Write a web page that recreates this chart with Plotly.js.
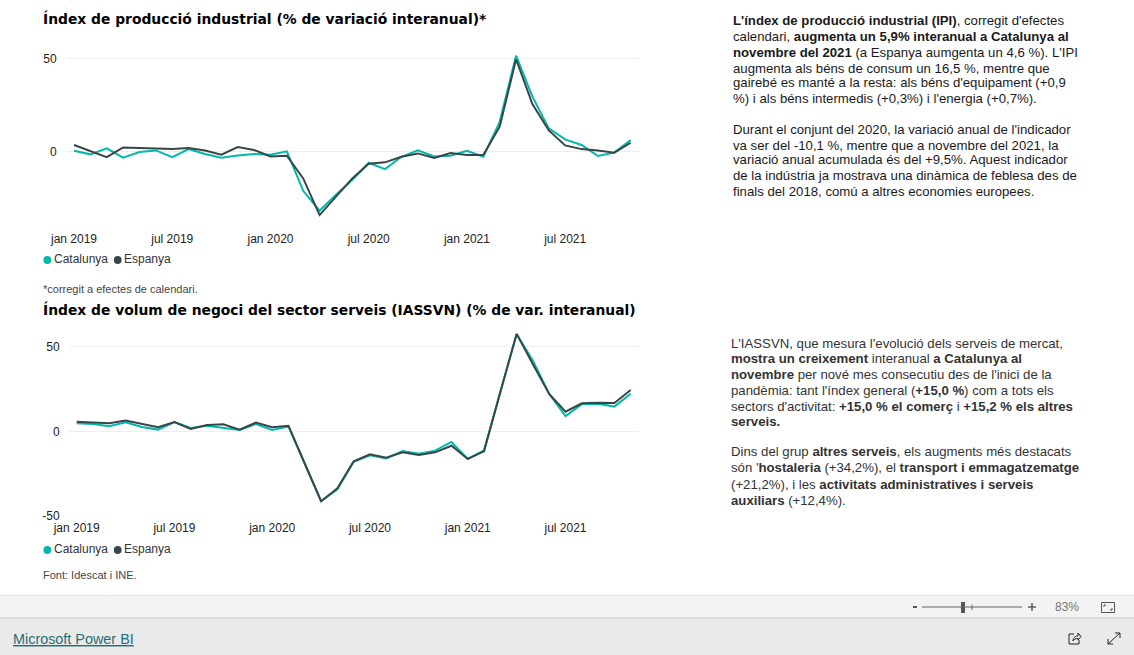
<!DOCTYPE html>
<html><head><meta charset="utf-8">
<script src="https://cdn.plot.ly/plotly-3.0.1.min.js"></script>
<style>html,body{margin:0;padding:0;background:#fff;overflow:hidden}#c{width:1134px;height:655px}</style>
</head><body><div id="c"></div>
<script>
const months = ['jan 2019','feb 2019','mar 2019','abr 2019','mai 2019','jun 2019','jul 2019','ago 2019','set 2019','oct 2019','nov 2019','des 2019',
'jan 2020','feb 2020','mar 2020','abr 2020','mai 2020','jun 2020','jul 2020','ago 2020','set 2020','oct 2020','nov 2020','des 2020',
'jan 2021','feb 2021','mar 2021','abr 2021','mai 2021','jun 2021','jul 2021','ago 2021','set 2021','oct 2021','nov 2021'];
const tickLabels = ['jan 2019','jul 2019','jan 2020','jul 2020','jan 2021','jul 2021'];
const ipiCatalunya = [0.5,-1.4,1.8,-3.2,-0.2,0.7,-2.9,1.4,-1.2,-3.2,-2,-1.2,-1.6,0.2,-20.9,-31.6,-23,-15,-5.9,-9.3,-2.7,0.7,-2.5,-2.1,0.5,-2.7,16,51.4,29.5,12.5,6.6,3.6,-2.3,-0.5,6.2];
const ipiEspanya = [3.6,0.5,-2.9,2.3,2,2.1,1.4,2,0.7,-1.6,2.5,0.9,-2.5,-2.1,-14.3,-33.9,-24,-14.3,-6.4,-5.7,-2.7,-0.9,-3.4,-0.7,-1.8,-1.8,13.4,49.5,25.5,11.4,3.4,1.4,0.7,-0.5,4.8];
const iassCatalunya = [4.7,4.3,3,5.3,2.6,1,5.5,2,3.3,2.2,0.8,4.3,0.8,2.8,-19,-41.3,-34.3,-18,-14.2,-16,-11.6,-13.2,-11.4,-6.3,-16.3,-11.2,23.4,57.5,41.7,22,9,16,16.3,14.6,22.2];
const iassEspanya = [5.7,5.1,4.7,6.3,4.3,2.4,5.5,1.4,3.7,4.1,1,5.1,2.4,3.3,-19,-41.3,-33.7,-17.7,-13.6,-15.6,-12.4,-14,-12.4,-8.5,-16.3,-11.8,23,57.5,39.6,22,11.6,16.5,16.9,16.7,24.4];
const seriesNames = ['Catalunya','Espanya'];
const seriesColors = ['#01B8AA','#374649'];
const title1 = 'Índex de producció industrial (% de variació interanual)*';
const title2 = 'Índex de volum de negoci del sector serveis (IASSVN) (% de var. interanual)';
const note1 = '*corregit a efectes de calendari.';
const note2 = 'Font: Idescat i INE.';
const para1 = [
 "<b>L'índex de producció industrial (IPI)</b>, corregit d'efectes",
 "calendari, <b>augmenta un 5,9% interanual a Catalunya al</b>",
 "<b>novembre del 2021</b> (a Espanya aumgenta un 4,6 %). L'IPI",
 "augmenta als béns de consum un 16,5 %, mentre que",
 "gairebé es manté a la resta: als béns d'equipament (+0,9",
 "%) i als béns intermedis (+0,3%) i l'energia (+0,7%)."];
const para2 = [
 "Durant el conjunt del 2020, la variació anual de l'indicador",
 "va ser del -10,1 %, mentre que a novembre del 2021, la",
 "variació anual acumulada és del +9,5%. Aquest indicador",
 "de la indústria ja mostrava una dinàmica de feblesa des de",
 "finals del 2018, comú a altres economies europees."];
const para3 = [
 "L'IASSVN, que mesura l'evolució dels serveis de mercat,",
 "<b>mostra un creixement</b> interanual <b>a Catalunya al</b>",
 "<b>novembre</b> per nové mes consecutiu des de l'inici de la",
 "pandèmia: tant l'índex general (<b>+15,0 %</b>) com a tots els",
 "sectors d'activitat: <b>+15,0 % el comerç</b> i <b>+15,2 % els altres</b>",
 "<b>serveis.</b>"];
const para4 = [
 "Dins del grup <b>altres serveis</b>, els augments més destacats",
 "són '<b>hostaleria</b> (+34,2%), el <b>transport i emmagatzematge</b>",
 "(+21,2%), i les <b>activitats administratives i serveis</b>",
 "<b>auxiliars</b> (+12,4%)."];

const W = 1134, H = 655;
const px = x => x / W, py = y => 1 - y / H;
const sans = 'Liberation Sans, Arial, sans-serif';
const annotations = [], shapes = [];
function text(x, y, t, size, color, opts) {
  annotations.push(Object.assign({xref:'paper', yref:'paper', x:px(x), y:py(y), text:t, showarrow:false,
    xanchor:'left', yanchor:'middle', borderpad:0, font:{family:sans, size:size, color:color}}, opts||{}));
}
function lines(x, ys, arr, color) { arr.forEach((t,i)=>text(x, ys[i], t, 13.2, color)); }
function rect(x0,y0,x1,y1,fill,lineColor){ shapes.push({type:'rect',xref:'paper',yref:'paper',layer:'below',x0:px(x0),x1:px(x1),y0:py(y0),y1:py(y1),
  fillcolor:fill,line:{width:lineColor?1:0,color:lineColor||fill}}); }
function seg(x0,y0,x1,y1,color,w){ shapes.push({type:'line',xref:'paper',yref:'paper',x0:px(x0),x1:px(x1),y0:py(y0),y1:py(y1),line:{color:color,width:w||1}}); }
function dot(cx,cy,r,color){ shapes.push({type:'circle',xref:'paper',yref:'paper',x0:px(cx-r),x1:px(cx+r),y0:py(cy-r),y1:py(cy+r),fillcolor:color,line:{width:0}}); }

// titles and notes
const titleFont = {family:'DejaVu Sans, sans-serif',size:13.85,color:'#000',weight:700};
text(42,19,title1,13.85,'#000',{font:titleFont});
text(42,309,title2,13.85,'#000',{font:titleFont});
text(42,289,note1,11,'#444');
text(42,575,note2,11,'#444');
// legends
[260,550].forEach(y=>{
  dot(47.3,y,3.9,seriesColors[0]); text(52.5,y-1,seriesNames[0],12,'#333');
  dot(117.7,y,3.9,seriesColors[1]); text(122.5,y-1,seriesNames[1],12,'#333');
});
// paragraphs
lines(732,[20,36,52,68,83,99],para1,'#1a1a1a');
lines(732,[129,145,160,176,192],para2,'#1a1a1a');
lines(729.7,[343,358,374,390,406,421],para3,'#333');
lines(729.7,[452,468,484,500],para4,'#333');
// bottom bars
rect(0,595.5,W,618,'#f3f3f3');
rect(0,618,W,H,'#eaeaea');
seg(0,595.5,W,595.5,'#e2e2e2');
seg(0,618,W,618,'#c8c8c8');
seg(913,607,917,607,'#555',2);
seg(922,607,1022,607,'#666',1);
seg(972,604.5,972,610,'#666',1);
rect(961,602,965,613,'#555');
seg(1028,607,1036,607,'#555',1.4);
seg(1032,603,1032,611,'#555',1.4);
text(1067,607,'83%',12,'#777',{xanchor:'center'});
shapes.push({type:'rect',xref:'paper',yref:'paper',x0:px(1101.5),x1:px(1114.5),y0:py(612.5),y1:py(602.5),line:{color:'#555',width:1}});
seg(1104,605,1106,605,'#555',1); seg(1104,605,1104,607,'#555',1);
seg(1110,610,1112,610,'#555',1); seg(1112,610,1112,608,'#555',1);
text(12,639,'Microsoft Power BI',14.4,'#1f6f78',{font:{family:sans,size:14.4,color:'#1f6f78',weight:400,lineposition:'under'}});
// share icon
shapes.push({type:'path',xref:'paper',yref:'paper',path:`M ${px(1074)} ${py(634)} L ${px(1069)} ${py(634)} L ${px(1069)} ${py(644)} L ${px(1079)} ${py(644)} L ${px(1079)} ${py(640)}`,line:{color:'#222',width:1}});
shapes.push({type:'path',xref:'paper',yref:'paper',path:`M ${px(1073)} ${py(641)} C ${px(1073)} ${py(637)} ${px(1076)} ${py(636)} ${px(1078)} ${py(636)} L ${px(1078)} ${py(633)} L ${px(1081)} ${py(636.5)} L ${px(1078)} ${py(640)} L ${px(1078)} ${py(638.5)} C ${px(1076)} ${py(638.5)} ${px(1074)} ${py(639)} ${px(1073)} ${py(641)}`,line:{color:'#222',width:1}});
// expand icon
seg(1108,644,1120,633,'#222',1);
seg(1115,633,1120,633,'#222',1); seg(1120,633,1120,638,'#222',1);
seg(1108,644,1113,644,'#222',1); seg(1108,644,1108,639,'#222',1);

function tr(x,y,name,color,xa,ya){ return {x:x,y:y,name:name,type:'scatter',mode:'lines',xaxis:xa,yaxis:ya,showlegend:false,hoverinfo:'skip',line:{color:color,width:2,shape:'linear'}}; }
const data = [
 tr(months,ipiCatalunya,seriesNames[0],seriesColors[0],'x','y'),
 tr(months,ipiEspanya,seriesNames[1],seriesColors[1],'x','y'),
 tr(months,iassCatalunya,seriesNames[0],seriesColors[0],'x2','y2'),
 tr(months,iassEspanya,seriesNames[1],seriesColors[1],'x2','y2')
];
const tf = {family:sans,size:12,color:'#222'};
function xax(x0,x1,r,anchor,tl){ return {type:'category',categoryorder:'array',categoryarray:months,domain:[px(x0),px(x1)],range:r,anchor:anchor,
  tickmode:'array',tickvals:tickLabels,ticktext:tickLabels,showgrid:false,zeroline:false,showline:false,ticks:'outside',ticklen:tl,tickcolor:'rgba(0,0,0,0)',tickangle:0,tickfont:tf,automargin:false}; }
function yax(y0,y1,r,vals,anchor){ return {domain:[py(y1),py(y0)],range:r,anchor:anchor,tickmode:'array',tickvals:vals,ticktext:vals.map(String),
  showgrid:true,gridcolor:'#eeeeee',gridwidth:1,zeroline:false,showline:false,ticks:'outside',ticklen:6,tickcolor:'rgba(0,0,0,0)',tickfont:tf,automargin:false}; }
const layout = {width:W,height:H,margin:{l:0,r:0,t:0,b:0},paper_bgcolor:'#fff',plot_bgcolor:'rgba(0,0,0,0)',showlegend:false,
 font:{family:sans},
 xaxis:xax(66,639,[-0.49,34.51],'y',0.5),
 yaxis:yax(49,227,[-40.3,55],[0,50],'x'),
 xaxis2:xax(69,639,[-0.47,34.51],'y2',1),
 yaxis2:yax(330,516,[-50,59.8],[-50,0,50],'x2'),
 annotations:annotations,shapes:shapes};
Plotly.newPlot('c',data,layout,{displayModeBar:false,staticPlot:true});
</script></body></html>
